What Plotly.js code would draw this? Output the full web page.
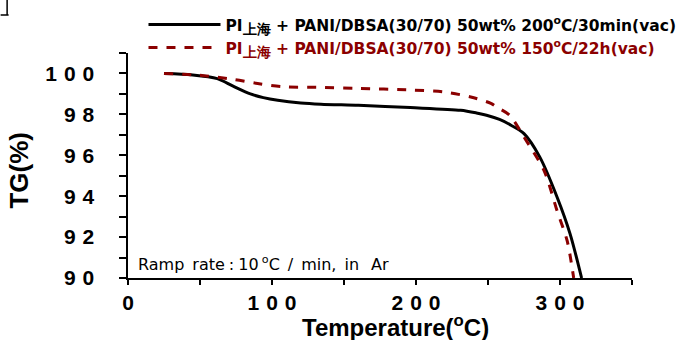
<!DOCTYPE html>
<html>
<head>
<meta charset="utf-8">
<script src="https://cdn.plot.ly/plotly-3.0.1.min.js"></script>
<style>html,body{margin:0;padding:0;background:#fff;}#chart{width:680px;height:340px;}</style>
</head>
<body>
<div id="chart"></div>
<script>
// ---- data ----
const tempBlack = [25, 45, 62, 73, 85, 94, 104, 120, 134, 160, 196, 231, 242, 249, 258, 266, 275, 286, 298, 307, 315];
const tgBlack   = [100, 99.93, 99.75, 99.38, 99.0, 98.82, 98.69, 98.56, 98.5, 98.44, 98.33, 98.2, 98.07, 97.96, 97.75, 97.47, 97.06, 95.91, 93.95, 92.16, 90.0];
const tempRed = [25, 50, 73, 90, 108, 131, 160, 196, 219, 238, 252, 256, 265, 275, 289, 298, 305, 309.5];
const tgRed   = [100, 99.91, 99.71, 99.51, 99.35, 99.32, 99.27, 99.19, 99.1, 98.85, 98.54, 98.36, 97.96, 96.89, 95.24, 93.28, 91.81, 90.0];

const nameBlack = "<b>PI<sub><span style='font-size:13.5px'>上海</span></sub> + PANI/DBSA(30/70) 50wt% 200<sup>o</sup>C/30min(vac)</b>";
const nameRed   = "<b><span style='color:#8b0000'>PI<sub><span style='font-size:13.5px'>上海</span></sub> + PANI/DBSA(30/70) 50wt% 150<sup>o</sup>C/22h(vac)</span></b>";

const xTickVals = [0, 50, 100, 150, 200, 250, 300, 350];
const xTickText = ["0", "", "1\u20040\u20040", "", "2\u20040\u20040", "", "3\u20040\u20040", ""];
const yTickVals = [90, 91, 92, 93, 94, 95, 96, 97, 98, 99, 100, 101];
const yTickText = ["9\u20040", "", "9\u20042", "", "9\u20044", "", "9\u20046", "", "9\u20048", "", "1\u20040\u20040", ""];

const xTitle = "<b>Temperature(<sup>o</sup>C)</b>";
const yTitle = "<b>TG(%)</b>";
const noteText = "Ramp\u2002rate\u2005:\u200510\u2009<sup>o</sup>C\u2002/\u2002min,\u2002in\u2002\u2005Ar";

// ---- geometry helpers (layout only) ----
const L = 127.5, R = 632, T = 53, B = 278;
const px = v => (v - L) / (R - L);
const py = v => (B - v) / (B - T);

const traces = [
  {x: tempBlack, y: tgBlack, mode: 'lines', name: nameBlack, legend: 'legend',
   line: {color: '#000000', width: 3, shape: 'spline', smoothing: 0.8}},
  {x: tempRed, y: tgRed, mode: 'lines', name: nameRed, legend: 'legend2',
   line: {color: '#8b0000', width: 3, dash: 'dash', shape: 'spline', smoothing: 0.8}}
];

const legFont = {family: 'DejaVu Sans, sans-serif', size: 15.5, color: '#000'};

const layout = {
  width: 680, height: 340,
  margin: {l: L, r: 680 - R, t: T, b: 340 - B, autoexpand: false},
  paper_bgcolor: '#fff', plot_bgcolor: '#fff',
  showlegend: true,
  legend: {x: px(143), y: py(25), xanchor: 'left', yanchor: 'middle', bgcolor: 'rgba(0,0,0,0)',
           font: legFont, itemwidth: 72, borderwidth: 0},
  legend2: {x: px(143), y: py(48), xanchor: 'left', yanchor: 'middle', bgcolor: 'rgba(0,0,0,0)',
           font: legFont, itemwidth: 72, borderwidth: 0},
  xaxis: {range: [0, 350], tickmode: 'array', tickvals: xTickVals, ticktext: xTickText,
          showgrid: false, zeroline: false, showline: true, linecolor: '#000', linewidth: 2,
          ticks: 'outside', ticklen: 5, tickwidth: 2, tickcolor: '#000', ticklabelstandoff: 0,
          tickfont: {family: 'Liberation Sans, Arial, sans-serif', size: 21, color: '#000', weight: 'bold'}},
  yaxis: {range: [90, 101], tickmode: 'array', tickvals: yTickVals, ticktext: yTickText,
          showgrid: false, zeroline: false, showline: true, linecolor: '#000', linewidth: 2.5,
          ticks: 'outside', ticklen: 7, tickwidth: 2, tickcolor: '#000', ticklabelstandoff: 20,
          tickfont: {family: 'Liberation Sans, Arial, sans-serif', size: 21, color: '#000', weight: 'bold'}},
  annotations: [
    {text: xTitle, xref: 'paper', yref: 'paper', x: px(395), y: py(308.5), xanchor: 'center', yanchor: 'top',
     showarrow: false, font: {family: 'Liberation Sans, Arial, sans-serif', size: 24, color: '#000'}},
    {text: yTitle, xref: 'paper', yref: 'paper', x: px(17.5), y: py(170.5), xanchor: 'center', yanchor: 'middle',
     textangle: -90, showarrow: false, font: {family: 'Liberation Sans, Arial, sans-serif', size: 26, color: '#000'}},
    {text: noteText, xref: 'paper', yref: 'paper', x: px(137), y: py(263), xanchor: 'left', yanchor: 'middle',
     showarrow: false, borderpad: 0, font: {family: 'DejaVu Sans, sans-serif', size: 16, color: '#000'}}
  ],
  shapes: [
    {type: 'path', xref: 'paper', yref: 'paper',
     path: `M${px(0)},${py(15)} L${px(8)},${py(15)} M${px(6.5)},${py(0)} L${px(6.5)},${py(15)}`,
     line: {color: '#000', width: 1.5}}
  ]
};

Plotly.newPlot('chart', traces, layout, {displayModeBar: false, staticPlot: true});
</script>
</body>
</html>
